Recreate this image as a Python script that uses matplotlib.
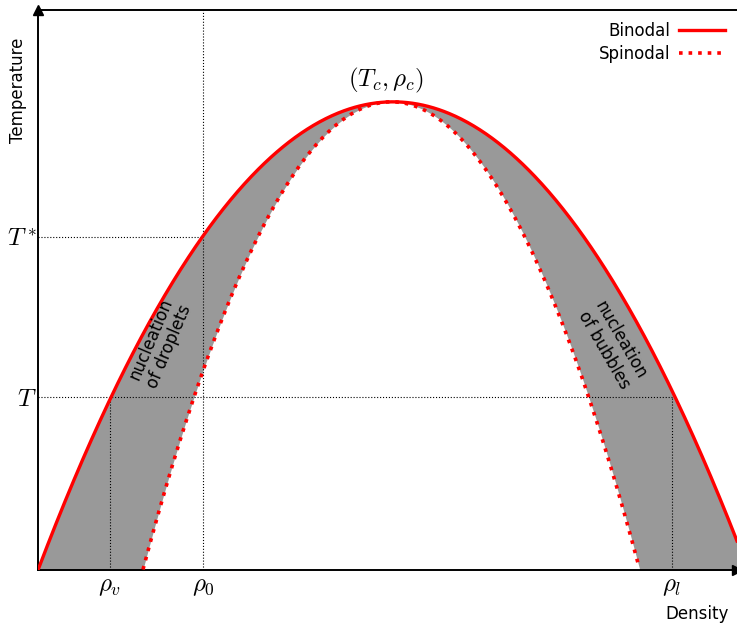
import numpy as np
import matplotlib
matplotlib.use("Agg")
import matplotlib.pyplot as plt

plt.rcParams['mathtext.fontset'] = 'cm'

# curve parameters (axes units 0..1)
binodal_roots = [0.0, 1.016]
spinodal_roots = [0.150, 0.861]
crit_T = 0.836
crit_rho = 0.508

T_star = 0.595
T_low = 0.309
rho_v = 0.103
rho_0 = 0.236
rho_l = 0.907

xtick_pos = [rho_v, rho_0, rho_l]
xtick_labels = [r'$\rho_v$', r'$\rho_0$', r'$\rho_l$']
ytick_pos = [T_low, T_star]
ytick_labels = [r'$T$', r'$T^*$']


def dome(x, roots, peak):
    c = 0.5 * (roots[0] + roots[1])
    h = 0.5 * (roots[1] - roots[0])
    return peak * (1 - ((x - c) / h) ** 2)


fig = plt.figure(figsize=(7.37, 6.26), dpi=100)
ax = fig.add_axes([38 / 737, 56 / 626, 699 / 737, 560 / 626])

x = np.linspace(0, 1, 800)
yb = dome(x, binodal_roots, crit_T)
ys = dome(x, spinodal_roots, crit_T)
ys_clip = np.clip(ys, 0, None)

ax.fill_between(x, ys_clip, yb, where=yb > 0, color='#999999', lw=0)
ax.plot(x, yb, color='red', lw=2.4, label='Binodal', zorder=3)
xs = x[ys >= 0]
ax.plot(xs, ys[ys >= 0], color='red', lw=2.6, ls=':', label='Spinodal', zorder=3)

# guide lines
kw = dict(color='black', lw=0.8, ls=':', zorder=2)
ax.plot([rho_0, rho_0], [0, 1], **kw)
ax.plot([0, rho_0], [T_star, T_star], **kw)
ax.plot([0, rho_l], [T_low, T_low], **kw)
ax.plot([rho_v, rho_v], [0, T_low], **kw)
ax.plot([rho_l, rho_l], [0, T_low], **kw)

ax.set_xlim(0, 1)
ax.set_ylim(0, 1)
ax.set_xticks(xtick_pos, xtick_labels, fontsize=18)
ax.set_yticks(ytick_pos, ytick_labels, fontsize=18)
ax.tick_params(axis='x', length=0, pad=3)
ax.tick_params(axis='y', length=0, pad=1)
ax.spines['right'].set_visible(False)
for s in ['left', 'bottom', 'top']:
    ax.spines[s].set_linewidth(1.4)

# arrow heads
ax.plot(0, 1, marker='^', color='black', ms=7, transform=ax.transAxes, clip_on=False)
ax.plot(1, 0, marker='>', color='black', ms=7, transform=ax.transAxes, clip_on=False)

fig.text(18 / 737, 1 - 90 / 626, 'Temperature', rotation=90, ha='center', va='center', fontsize=12)
fig.text(697 / 737, 1 - 614 / 626, 'Density', ha='center', va='center', fontsize=12)

ax.text(crit_rho - 0.01, crit_T + 0.012, r'$(T_c, \rho_c)$', ha='center', va='bottom', fontsize=18)

ax.text((160 - 38) / 699, (570 - 343) / 560, 'nucleation\nof droplets', rotation=67,
        ha='center', va='center', fontsize=12, linespacing=1.1)
ax.text((612 - 38) / 699, (570 - 345) / 560, 'nucleation\nof bubbles', rotation=-60,
        ha='center', va='center', fontsize=12, linespacing=1.1)

ax.legend(loc='upper right', frameon=False, markerfirst=False, fontsize=12,
          handlelength=2.8, borderaxespad=0.3, labelspacing=0.3, handletextpad=0.5)

fig.savefig('out.png', dpi=100)
